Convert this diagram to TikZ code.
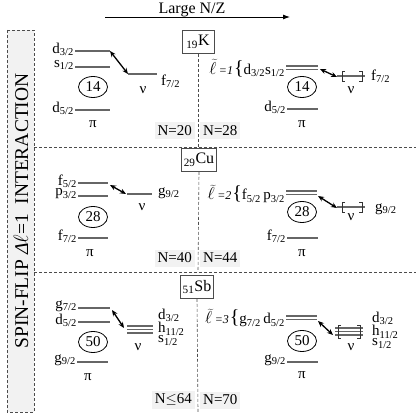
\documentclass[tikz,border=0pt]{standalone}
\usepackage{fontspec}
\setmainfont{Liberation Serif}
\usetikzlibrary{arrows.meta,shapes.geometric}
\newcommand{\orb}[2]{#1\textsubscript{#2}}
\newcommand{\ltil}[1]{{\fontsize{17}{18}\selectfont$\widetilde{\ell}$}\kern2.5pt{\fontsize{12}{13}\selectfont\textit{=#1}}\kern1pt{\fontsize{20}{20}\selectfont\{}}

\begin{document}
\begin{tikzpicture}[
  x=1pt,y=-1pt,font=\fontsize{15}{17}\selectfont,
  lvl/.style={draw=black!60,line width=1.1pt},
  jump/.style={line width=1.3pt,{Stealth[length=6pt,width=5pt]}-{Stealth[length=6pt,width=5pt]}},
  core/.style={ellipse,draw,line width=.8pt,minimum width=29pt,minimum height=21pt,inner sep=0pt},
  elem/.style={draw=black!70,line width=.8pt,fill=white,minimum width=32pt,minimum height=23pt,inner sep=2pt,
    font=\fontsize{16}{18}\selectfont},
  nlab/.style={fill=black!5,inner sep=3pt,minimum height=17pt},
  sep/.style={draw=black!70,line width=.6pt,dash pattern=on 3pt off 2pt},
  brk/.style={draw=black!80,line width=.8pt},
  orbl/.style={anchor=east,inner sep=1pt},
  orbr/.style={anchor=west,inner sep=1pt}
]
\path[use as bounding box] (0,0) rectangle (419,419);

% header
\node[anchor=base] (title) at (192,13.5) {\fontsize{16}{18}\selectfont Large N/Z};
\coordinate (zfrom) at (105,17);
\coordinate (zto) at (290,17);
\draw[line width=.9pt,-{Latex[length=7pt,width=5pt]}] (zfrom) -- (zto);

% side box
\draw[sep,fill=black!5] (7,30) rectangle (34,412);
\node[rotate=90] (spin) at (21,211) {\fontsize{19.5}{22}\selectfont SPIN-FLIP \textit{Δ}$\ell$=1\ \ INTERACTION};

% panel separators
\draw[sep] (34,147) -- (416,147);
\draw[sep] (34,272) -- (416,272);

%%% 19K
\node[elem] (k) at (198,42) {\textsubscript{19}K};
\coordinate (kbot) at (198,147);
\draw[sep] (k.south) -- (kbot);
\node[nlab,anchor=east] (k20) at (195,131) {N=20};
\node[nlab,anchor=west] (k28) at (200,131) {N=28};
% N=20 side
\draw[lvl] (75,51) -- (110,51);
\node[orbl] (kd3) at (75,49) {\orb{d}{3/2}};
\draw[lvl] (75,67) -- (110,67);
\node[orbl] (ks1) at (75,65) {\orb{s}{1/2}};
\node[core] (k14a) at (93,87) {14};
\draw[lvl] (75,110) -- (110,110);
\node[orbl] (kd5) at (75,108) {\orb{d}{5/2}};
\node (kpia) at (93,124) {π};
\coordinate (kd3e) at (110,51);
\coordinate (kf7s) at (128,74);
\draw[jump] (kd3e) -- (kf7s);
\draw[lvl] (128,74) -- (157,74);
\node[orbr] (kf7) at (160,81) {\orb{f}{7/2}};
\node (knua) at (143,90) {ν};
% N=28 side
\node[orbl] (kl1) at (286,68) {\ltil{1}\orb{d}{3/2}\orb{s}{1/2}};
\draw[lvl] (286,66) -- (318,66);
\draw[lvl] (286,69.5) -- (318,69.5);
\node[core] (k14b) at (302,87) {14};
\draw[lvl] (287,109) -- (318,109);
\node[orbl] (kd5b) at (287,107) {\orb{d}{5/2}};
\node (kpib) at (302,124) {π};
\coordinate (kde) at (320,69);
\coordinate (kbr) at (337,77);
\draw[jump] (kde) -- (kbr);
\draw[lvl] (337,76) -- (365,76);
\draw[brk] (345,71) -- (342,71) -- (342,81) -- (345,81);
\draw[brk] (359,71) -- (362,71) -- (362,81) -- (359,81);
\node (knub) at (351,90) {ν};
\node[orbr] (kf7b) at (370,76) {\orb{f}{7/2}};

%%% 29Cu
\node[elem] (cu) at (199,160) {\textsubscript{29}Cu};
\coordinate (cubot) at (198,272);
\draw[sep] (cu.south) -- (cubot);
\node[nlab,anchor=east] (cu40) at (195,258) {N=40};
\node[nlab,anchor=west] (cu44) at (200,258) {N=44};
% N=40 side
\draw[lvl] (78,183) -- (108,183);
\node[orbl] (cuf5) at (78,181) {\orb{f}{5/2}};
\draw[lvl] (78,196) -- (108,196);
\node[orbl] (cup3) at (78,194) {\orb{p}{3/2}};
\node[core] (cu28a) at (93,217) {28};
\draw[lvl] (78,238) -- (108,238);
\node[orbl] (cuf7) at (78,236) {\orb{f}{7/2}};
\node (cupia) at (90,253) {π};
\coordinate (cuf5e) at (110,185);
\coordinate (cug9s) at (126,194);
\draw[jump] (cuf5e) -- (cug9s);
\draw[lvl] (127,194) -- (152,194);
\node[orbr] (cug9) at (157,193) {\orb{g}{9/2}};
\node (cunua) at (142,207) {ν};
% N=44 side
\node[orbl] (cul2) at (286,194) {\ltil{2}\orb{f}{5/2}\,\orb{p}{3/2}};
\draw[lvl] (286,191) -- (317,191);
\draw[lvl] (286,194.5) -- (317,194.5);
\node[core] (cu28b) at (302,212) {28};
\draw[lvl] (287,238) -- (318,238);
\node[orbl] (cuf7b) at (287,236) {\orb{f}{7/2}};
\node (cupib) at (302,253) {π};
\coordinate (cude) at (318,196);
\coordinate (cubr) at (337,208);
\draw[jump] (cude) -- (cubr);
\draw[lvl] (337,207) -- (365,207);
\draw[brk] (345,202) -- (342,202) -- (342,212) -- (345,212);
\draw[brk] (359,202) -- (362,202) -- (362,212) -- (359,212);
\node (cunub) at (351,217) {ν};
\node[orbr] (cug9b) at (374,209) {\orb{g}{9/2}};

%%% 51Sb
\node[elem] (sb) at (197,287) {\textsubscript{51}Sb};
\coordinate (sbbot) at (198,412);
\draw[sep] (sb.south) -- (sbbot);
\node[nlab,anchor=east] (sb64) at (195,400) {N$\leq$64};
\node[nlab,anchor=west] (sb70) at (200,400) {N=70};
% N<=64 side
\draw[lvl] (78,308) -- (110,308);
\node[orbl] (sbg7) at (78,306) {\orb{g}{7/2}};
\draw[lvl] (78,322) -- (110,322);
\node[orbl] (sbd5) at (78,320) {\orb{d}{5/2}};
\node[core] (sb50a) at (93,342) {50};
\draw[lvl] (77,362) -- (108,362);
\node[orbl] (sbg9) at (77,360) {\orb{g}{9/2}};
\node (sbpia) at (88,377) {π};
\coordinate (sbg7e) at (112,310);
\coordinate (sbnus) at (124,328);
\draw[jump] (sbg7e) -- (sbnus);
\draw[lvl] (127,326) -- (153,326);
\draw[lvl] (127,329.5) -- (153,329.5);
\draw[lvl] (127,333) -- (153,333);
\node[orbr,align=left,font=\fontsize{15}{10}\selectfont] (sbnul) at (157,327) {\orb{d}{3/2}\\\orb{h}{11/2}\\\orb{s}{1/2}};
\node (sbnua) at (138,347) {ν};
% N=70 side
\node[orbl] (sbl3) at (286,318) {\ltil{3}\orb{g}{7/2}\,\orb{d}{5/2}};
\draw[lvl] (286,316) -- (317,316);
\draw[lvl] (286,319.5) -- (317,319.5);
\node[core] (sb50b) at (302,341) {50};
\draw[lvl] (287,362) -- (318,362);
\node[orbl] (sbg9b) at (287,360) {\orb{g}{9/2}};
\node (sbpib) at (302,375) {π};
\coordinate (sbde) at (318,321);
\coordinate (sbbr) at (333,335);
\draw[jump] (sbde) -- (sbbr);
\draw[lvl] (335,328) -- (363,328);
\draw[lvl] (335,331.5) -- (363,331.5);
\draw[lvl] (335,335) -- (363,335);
\draw[brk] (341,325) -- (338,325) -- (338,338) -- (341,338);
\draw[brk] (357,325) -- (360,325) -- (360,338) -- (357,338);
\node (sbnub) at (351,347) {ν};
\node[orbr,align=left,font=\fontsize{15}{10}\selectfont] (sbnur) at (371,330) {\orb{d}{3/2}\\\orb{h}{11/2}\\\orb{s}{1/2}};
\end{tikzpicture}
\end{document}
